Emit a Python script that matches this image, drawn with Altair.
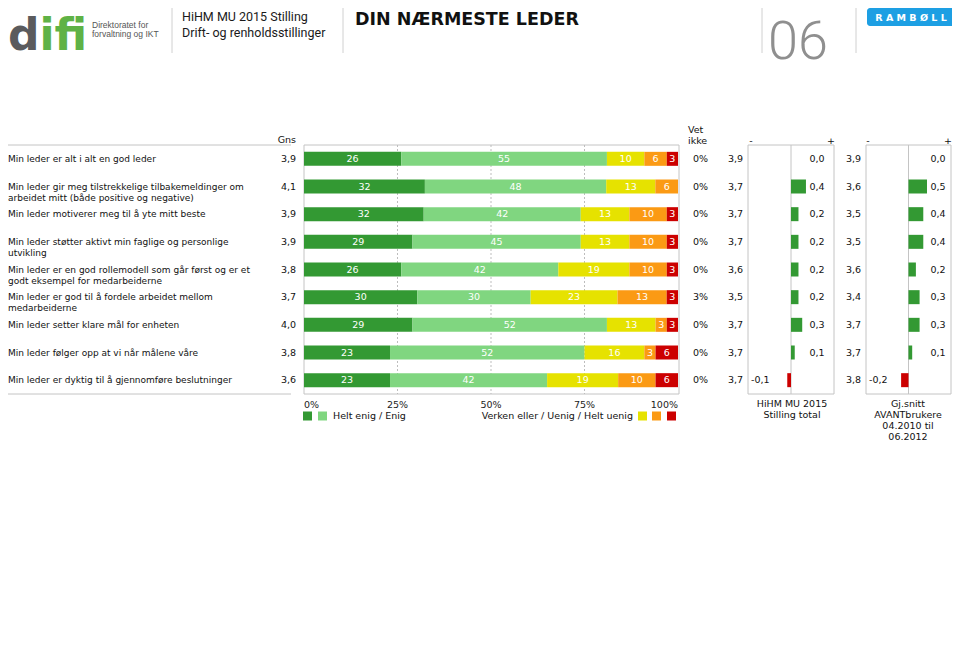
import altair as alt
import pandas as pd

# ---------------- data ----------------
questions = [
    "Min leder er alt i alt en god leder",
    "Min leder gir meg tilstrekkelige tilbakemeldinger om\narbeidet mitt (både positive og negative)",
    "Min leder motiverer meg til å yte mitt beste",
    "Min leder støtter aktivt min faglige og personlige\nutvikling",
    "Min leder er en god rollemodell som går først og er et\ngodt eksempel for medarbeiderne",
    "Min leder er god til å fordele arbeidet mellom\nmedarbeiderne",
    "Min leder setter klare mål for enheten",
    "Min leder følger opp at vi når målene våre",
    "Min leder er dyktig til å gjennomføre beslutninger",
]
gns = [3.9, 4.1, 3.9, 3.9, 3.8, 3.7, 4.0, 3.8, 3.6]
helt_enig = [26, 32, 32, 29, 26, 30, 29, 23, 23]
enig = [55, 48, 42, 45, 42, 30, 52, 52, 42]
verken = [10, 13, 13, 13, 19, 23, 13, 16, 19]
uenig = [6, 6, 10, 10, 10, 13, 3, 3, 10]
helt_uenig = [3, 0, 3, 3, 3, 3, 3, 6, 6]
vet_ikke = [0, 0, 0, 0, 0, 3, 0, 0, 0]
gns_total = [3.9, 3.7, 3.7, 3.7, 3.6, 3.5, 3.7, 3.7, 3.7]
diff_total = [0.0, 0.4, 0.2, 0.2, 0.2, 0.2, 0.3, 0.1, -0.1]
gns_avant = [3.9, 3.6, 3.5, 3.5, 3.6, 3.4, 3.7, 3.7, 3.8]
diff_avant = [0.0, 0.5, 0.4, 0.4, 0.2, 0.3, 0.3, 0.1, -0.2]
cats = ["Helt enig", "Enig", "Verken eller", "Uenig", "Helt uenig"]
pct_ticks = [0, 0.25, 0.5, 0.75, 1.0]
pct_labels = ["0%", "25%", "50%", "75%", "100%"]

# ---------------- style ----------------
FONT = "DejaVu Sans"
DG, LG, YE, OR, RE = "#339933", "#80d680", "#e6e200", "#fb9a14", "#cc0000"
colors = [DG, LG, YE, OR, RE]
GRAY = "#c4c4c4"
TXT = "#111111"


def fmt(v):
    return f"{v:.1f}".replace(".", ",")


rows = []
for i, q in enumerate(questions):
    for k, arr in enumerate([helt_enig, enig, verken, uenig, helt_uenig]):
        rows.append({"q": q, "cat": cats[k], "k": k, "v": arr[i]})
long = pd.DataFrame(rows)

table = pd.DataFrame({
    "q": questions,
    "gns": [fmt(v) for v in gns],
    "vet": [f"{v}%" for v in vet_ikke],
    "g1": [fmt(v) for v in gns_total],
    "d1": diff_total,
    "d1lab": [fmt(v) for v in diff_total],
    "g2": [fmt(v) for v in gns_avant],
    "d2": diff_avant,
    "d2lab": [fmt(v) for v in diff_avant],
})
ticks = pd.DataFrame({"p": pct_ticks, "lab": pct_labels})
one = pd.DataFrame({"a": [0]})
zero = pd.DataFrame({"z": [0.0]})

YS = alt.Scale(type="band", domain=questions, range=[137, 386], paddingInner=0, paddingOuter=0)
Y = alt.Y("q:N", scale=YS, axis=None)
XB = alt.Scale(domain=[0, 1], range=[296, 670])
XD1 = alt.Scale(domain=[-1.15, 1.15], range=[740, 826])
XD2 = alt.Scale(domain=[-1.15, 1.15], range=[858, 943])


def txt(s, x, y, size=9, align="left", baseline="middle", color=TXT, font=FONT,
        weight="normal", lh=None):
    kw = dict(text=s, align=align, baseline=baseline, fontSize=size, color=color,
              font=font, fontWeight=weight)
    if lh:
        kw["lineHeight"] = lh
    return alt.Chart(one).mark_text(**kw).encode(x=alt.value(x), y=alt.value(y))


def vline(x, y0, y1, color=GRAY, dash=None):
    kw = dict(color=color, strokeWidth=1)
    if dash:
        kw["strokeDash"] = dash
    return alt.Chart(one).mark_rule(**kw).encode(x=alt.value(x), y=alt.value(y0), y2=alt.value(y1))


def hline(x0, x1, y, color=GRAY):
    return alt.Chart(one).mark_rule(color=color, strokeWidth=1).encode(
        x=alt.value(x0), x2=alt.value(x1), y=alt.value(y))


def frame(x0, x1, y0, y1):
    return alt.Chart(one).mark_rect(fillOpacity=0, stroke=GRAY, strokeWidth=1).encode(
        x=alt.value(x0), x2=alt.value(x1), y=alt.value(y0), y2=alt.value(y1))


layers = []

# ---------------- header ----------------
layers += [
    txt("d", 0, 41.5, size=44, baseline="alphabetic", color="#5b5b5d", weight="bold"),
    txt("ifi", 31.5, 41.5, size=44, baseline="alphabetic", color="#5fb246", weight="bold"),
    txt("Direktoratet for", 84, 17, size=8.5, color="#555555", font="Liberation Sans"),
    txt("forvaltning og IKT", 84, 26, size=8.5, color="#555555", font="Liberation Sans"),
    vline(164, 0, 45, color="#d0d0d0"),
    txt("HiHM MU 2015 Stilling", 174, 12.5, size=12.5, baseline="alphabetic", color="#1a1a1a", font="Roboto"),
    txt("Drift- og renholdsstillinger", 174, 28.5, size=12.5, baseline="alphabetic", color="#1a1a1a", font="Roboto"),
    vline(335, 0, 45, color="#d0d0d0"),
    txt("DIN NÆRMESTE LEDER", 347, 16.5, size=17.5, baseline="alphabetic", color="#111111", weight="bold"),
    vline(754, 0, 45, color="#d0d0d0"),
    txt("06", 760, 50.5, size=54, baseline="alphabetic", color="#8f8f8f", font="Roboto", weight=300),
    vline(848, 0, 45, color="#d0d0d0"),
    alt.Chart(one).mark_rect(color="#1d9fe3", cornerRadius=3).encode(
        x=alt.value(859), x2=alt.value(947), y=alt.value(0), y2=alt.value(18)),
    txt("R A M B Ø L L", 903, 9.5, size=9.5, align="center", color="white", weight="bold"),
]

# ---------------- table frame / lines ----------------
layers += [
    hline(0, 283, 137),
    hline(0, 283, 386),
    txt("Gns", 288, 132, size=9.5, align="right"),
    frame(296, 671, 137, 386),
    frame(740, 826, 137, 386),
    frame(858, 943, 137, 386),
    txt(["Vet", "ikke"], 680, 122, size=9.5, lh=11),
    txt("-", 743, 133, size=9.5, align="center"),
    txt("+", 823, 133, size=9.5, align="center"),
    txt("-", 860, 133, size=9.5, align="center"),
    txt("+", 940, 133, size=9.5, align="center"),
]

# gridlines on the 100% bar scale
layers.append(
    alt.Chart(ticks).transform_filter("datum.p > 0 && datum.p < 1")
    .mark_rule(color="#bdbdbd", strokeDash=[2, 2], strokeWidth=1)
    .encode(x=alt.X("p:Q", scale=XB, axis=None), y=alt.value(137), y2=alt.value(386))
)
# diff box center lines
layers.append(alt.Chart(zero).mark_rule(color=GRAY).encode(
    x=alt.X("z:Q", scale=XD1, axis=None), y=alt.value(137), y2=alt.value(386)))
layers.append(alt.Chart(zero).mark_rule(color=GRAY).encode(
    x=alt.X("z:Q", scale=XD2, axis=None), y=alt.value(137), y2=alt.value(386)))

# ---------------- question labels & Gns ----------------
layers.append(alt.Chart(table).mark_text(align="left", baseline="middle", fontSize=9, font=FONT,
                                         color=TXT, lineBreak="\n", lineHeight=11)
              .encode(x=alt.value(0), y=Y, text="q:N"))
layers.append(alt.Chart(table).mark_text(align="right", baseline="middle", fontSize=9.5, font=FONT, color=TXT)
              .encode(x=alt.value(288), y=Y, text="gns:N"))

# ---------------- stacked bars ----------------
stack = alt.Chart(long).transform_stack(
    stack="v", groupby=["q"], as_=["x0", "x1"],
    sort=[alt.SortField("k", order="ascending")], offset="normalize")
layers.append(stack.mark_bar(size=14).encode(
    x=alt.X("x0:Q", scale=XB, axis=None), x2="x1:Q", y=Y,
    color=alt.Color("cat:N", scale=alt.Scale(domain=cats, range=colors), legend=None)))
layers.append(stack.transform_filter("datum.v > 0")
              .transform_calculate(mid="(datum.x0 + datum.x1) / 2")
              .mark_text(color="white", fontSize=9.5, font=FONT, baseline="middle")
              .encode(x=alt.X("mid:Q", scale=XB, axis=None), y=Y, text="v:Q"))

# ---------------- right columns ----------------
layers.append(alt.Chart(table).mark_text(align="right", baseline="middle", fontSize=9.5, font=FONT, color=TXT)
              .encode(x=alt.value(700), y=Y, text="vet:N"))
layers.append(alt.Chart(table).mark_text(align="right", baseline="middle", fontSize=9.5, font=FONT, color=TXT)
              .encode(x=alt.value(735), y=Y, text="g1:N"))
layers.append(alt.Chart(table).mark_text(align="right", baseline="middle", fontSize=9.5, font=FONT, color=TXT)
              .encode(x=alt.value(853), y=Y, text="g2:N"))

for fld, lab, sc, xr, xl in [("d1", "d1lab", XD1, 816.5, 743), ("d2", "d2lab", XD2, 937.5, 861)]:
    layers.append(alt.Chart(table).mark_bar(size=14).encode(
        x=alt.X(f"{fld}:Q", scale=sc, axis=None), y=Y,
        color=alt.condition(f"datum.{fld} < 0", alt.value(RE), alt.value(DG))))
    layers.append(alt.Chart(table).transform_filter(f"datum.{fld} >= 0")
                  .mark_text(align="right", baseline="middle", fontSize=9.5, font=FONT, color=TXT)
                  .encode(x=alt.value(xr), y=Y, text=f"{lab}:N"))
    layers.append(alt.Chart(table).transform_filter(f"datum.{fld} < 0")
                  .mark_text(align="left", baseline="middle", fontSize=9.5, font=FONT, color=TXT)
                  .encode(x=alt.value(xl), y=Y, text=f"{lab}:N"))

# ---------------- percent scale labels & legend ----------------
for flt, al in [("datum.p == 0", "left"), ("datum.p > 0 && datum.p < 1", "center"), ("datum.p == 1", "right")]:
    layers.append(alt.Chart(ticks).transform_filter(flt)
                  .mark_text(align=al, baseline="middle", fontSize=9.5, font=FONT, color="#222222")
                  .encode(x=alt.X("p:Q", scale=XB, axis=None), y=alt.value(397), text="lab:N"))

for xc, col in [(299.5, DG), (314.5, LG), (634.5, YE), (648.5, OR), (663.5, RE)]:
    layers.append(alt.Chart(one).mark_square(size=81, color=col, opacity=1)
                  .encode(x=alt.value(xc), y=alt.value(408)))
layers += [
    txt("Helt enig / Enig", 325, 408, size=9.5),
    txt("Verken eller / Uenig / Helt uenig", 625, 408, size=9.5, align="right"),
    txt(["HiHM MU 2015", "Stilling total"], 784, 391, size=9.5, align="center", baseline="top", lh=11),
    txt(["Gj.snitt", "AVANTbrukere", "04.2010 til", "06.2012"], 900, 391, size=9.5,
        align="center", baseline="top", lh=11),
]

chart = (
    alt.layer(*layers)
    .resolve_scale(x="independent", color="independent")
    .properties(width=944, height=450, padding=0, autosize="none", background="white")
    .configure_view(strokeWidth=0)
)

chart.save("out.html", embed_options={"renderer": "svg", "actions": False})
